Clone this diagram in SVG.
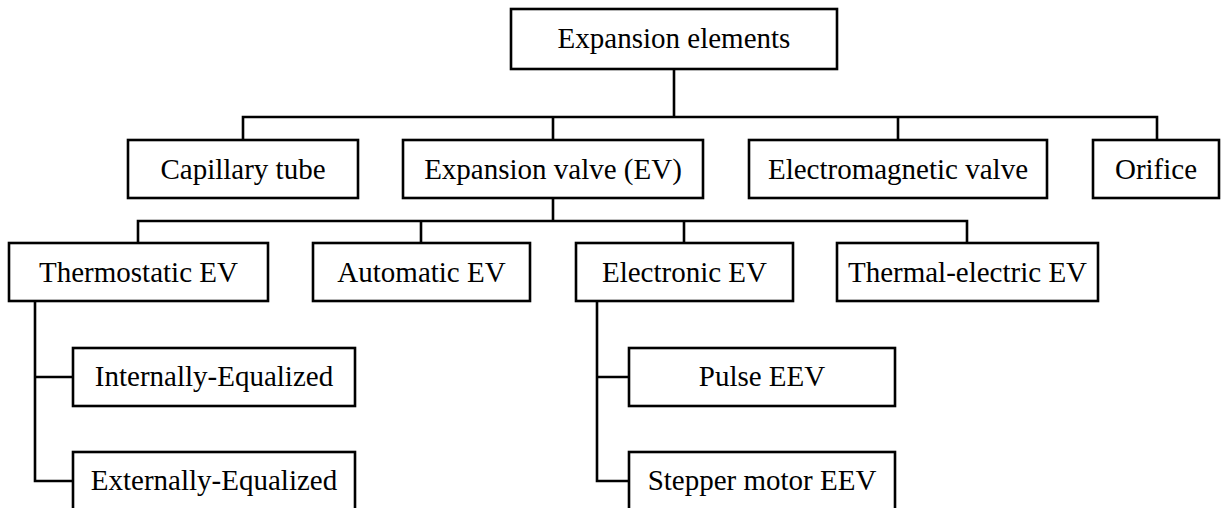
<svg xmlns="http://www.w3.org/2000/svg" width="1224" height="508" viewBox="0 0 1224 508">
<style>
.box{fill:#fff;stroke:#000;stroke-width:2.6}
.lbl{font-family:"Liberation Serif","Times New Roman",serif;font-size:29px;fill:#000;text-anchor:middle}
.ln{fill:none;stroke:#000;stroke-width:2.6;stroke-linecap:square}
</style>
<rect width="1224" height="508" fill="#fff"/>
<g id="connectors">
<path class="ln" d="M674 69V117M243 117H1157M243 117V140M553 117V140M898 117V140M1157 117V140"/>
<path class="ln" d="M553 198V221M138 221H967M138 221V243M421 221V243M684 221V243M967 221V243"/>
<path class="ln" d="M35 301V481M35 377H73M35 481H73"/>
<path class="ln" d="M597 301V481M597 377H629M597 481H629"/>
</g>
<g id="n-root"><rect class="box" x="511" y="9" width="326" height="60"/><text class="lbl" x="674" y="48">Expansion elements</text></g>
<g id="n-capillary"><rect class="box" x="128" y="140" width="230" height="58"/><text class="lbl" x="243" y="179">Capillary tube</text></g>
<g id="n-ev"><rect class="box" x="403" y="140" width="300" height="58"/><text class="lbl" x="553" y="179">Expansion valve (EV)</text></g>
<g id="n-electromagnetic"><rect class="box" x="749" y="140" width="298" height="58"/><text class="lbl" x="898" y="179">Electromagnetic valve</text></g>
<g id="n-orifice"><rect class="box" x="1093" y="140" width="126" height="58"/><text class="lbl" x="1156" y="179">Orifice</text></g>
<g id="n-thermostatic"><rect class="box" x="9" y="243" width="259" height="58"/><text class="lbl" x="138.5" y="282">Thermostatic EV</text></g>
<g id="n-automatic"><rect class="box" x="313" y="243" width="217" height="58"/><text class="lbl" x="421.5" y="282">Automatic EV</text></g>
<g id="n-electronic"><rect class="box" x="576" y="243" width="217" height="58"/><text class="lbl" x="684.5" y="282">Electronic EV</text></g>
<g id="n-thermal-electric"><rect class="box" x="837" y="243" width="261" height="58"/><text class="lbl" x="967.5" y="282">Thermal-electric EV</text></g>
<g id="n-internally"><rect class="box" x="73" y="348" width="282" height="58"/><text class="lbl" x="214" y="386">Internally-Equalized</text></g>
<g id="n-externally"><rect class="box" x="73" y="452" width="282" height="60"/><text class="lbl" x="214" y="490">Externally-Equalized</text></g>
<g id="n-pulse"><rect class="box" x="629" y="348" width="266" height="58"/><text class="lbl" x="762" y="386">Pulse EEV</text></g>
<g id="n-stepper"><rect class="box" x="629" y="452" width="266" height="60"/><text class="lbl" x="762" y="490">Stepper motor EEV</text></g>
</svg>
